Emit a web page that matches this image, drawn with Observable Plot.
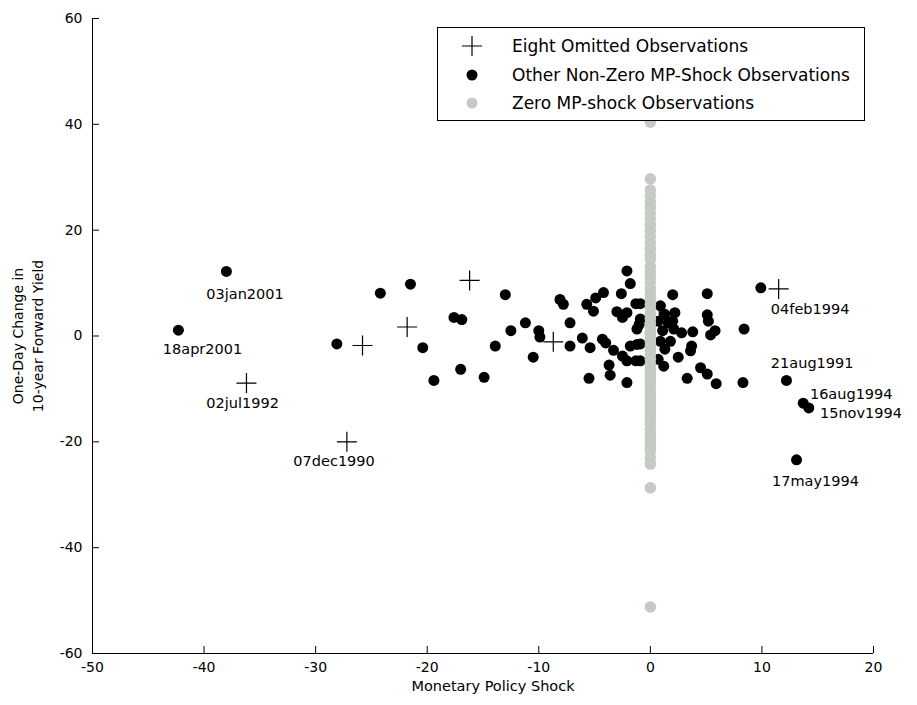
<!DOCTYPE html>
<html><head><meta charset="utf-8">
<script src="https://cdn.jsdelivr.net/npm/d3@7"></script>
<script src="https://cdn.jsdelivr.net/npm/@observablehq/plot@0.6"></script>
<style>
body{margin:0;background:#fff;}
#wrap{position:relative;width:917px;height:705px;font-family:"DejaVu Sans",sans-serif;}
</style></head><body><div id="wrap"></div>
<script>
// ---- data ----
const xTicks = [-50, -40, -30, -20, -10, 0, 10, 20];
const yTicks = [-60, -40, -20, 0, 20, 40, 60];

// Eight omitted observations (plus markers)
const omittedX = [-36.2, -27.2, -25.8, -21.8, -16.2, -8.7, 11.5, 0.8];
const omittedY = [-8.9, -20.0, -1.8, 1.7, 10.5, -1.1, 8.9, 3.2];

// Other non-zero MP-shock observations (black dots)
const otherX = [-38.0, -42.3, -28.1, -24.2, -21.5, -20.4, -19.4, -17.6, -16.9, -17.0,
  -14.9, -13.9, -13.0, -12.5, -11.2, -10.0, -9.9, -10.5, -8.1, -7.8,
  -7.2, -7.2, -6.1, -5.4, -5.5, -5.7, -4.9, -4.2, -5.1, -4.3,
  -4.0, -3.3, -3.7, -3.6, -2.5, -2.1, -1.3, -1.8, -1.2, -2.1,
  -2.1, -1.8, -2.6, -1.3, -3.0, -2.5, -2.1, -1.0, -1.2, -0.9,
  -0.9, 2.0, 5.1, 9.9, 5.1, 5.2, 5.8, 5.4, 8.4, 3.8,
  2.8, 1.3, 2.0, 2.1, 3.7, 3.6, 2.5, 4.5, 5.1, 3.3,
  5.9, 8.3, 12.2, 13.7, 14.2, 13.1, 0.9, 0.7, 1.1, 0.9,
  1.3, 1.8, 2.2, 1.6, 0.7, 1.2, -0.9, -0.9];
const otherY = [12.2, 1.1, -1.5, 8.1, 9.8, -2.2, -8.4, 3.5, 3.1, -6.3,
  -7.8, -1.9, 7.8, 1.0, 2.5, 1.0, -0.2, -4.0, 6.9, 6.0,
  2.5, -1.9, -0.4, -2.2, -8.0, 6.0, 7.2, 8.2, 4.7, -0.6,
  -1.3, -2.7, -5.5, -7.4, -3.8, -4.7, -4.7, -1.9, -1.6, -8.8,
  12.3, 9.9, 8.0, 6.1, 4.6, 3.5, 4.4, 2.2, 1.3, 6.1,
  3.2, 7.8, 8.0, 9.1, 4.0, 2.8, 1.0, 0.2, 1.3, 0.8,
  0.6, 4.1, 2.8, 1.3, -1.9, -2.8, -4.0, -6.0, -7.2, -8.0,
  -9.0, -8.8, -8.4, -12.7, -13.6, -23.4, 5.7, 2.8, 1.0, -1.0,
  -2.5, -1.0, 4.4, 2.5, -4.4, -5.7, -1.5, -4.7];

// Zero MP-shock observations (grey dots, all at shock = 0)
const zeroY = [40.4, 29.7, 27.6, 26.6, 25.4, 24.3, 23.2, 22.1, 21.0, 19.9, 18.8,
  17.6, 16.5, 15.4, 14.5, 13.2, 12.1, 11.2, 10.2, 9.0, 7.9, 7.1, 6.0,
  5.2, 4.1, 3.3, 2.4, 1.6, 0.8, 0.3, -0.4, -1.1, -1.9, -2.7, -3.5,
  -4.4, -5.3, -6.2, -7.0, -7.9, -8.8, -9.7, -10.6, -11.5, -12.3, -13.2,
  -14.1, -15.0, -15.9, -16.7, -17.6, -18.5, -19.4, -20.2, -21.1, -21.8,
  -23.0, -24.2, -28.7, -51.2];

// Date labels (left edge / vertical centre of the label, data units)
const labelText = ["03jan2001", "18apr2001", "02jul1992", "07dec1990", "04feb1994",
  "21aug1991", "16aug1994", "15nov1994", "17may1994"];
const labelX = [-39.8, -43.7, -39.8, -32.0, 10.8, 10.8, 14.3, 15.2, 10.9];
const labelY = [7.9, -2.6, -12.8, -23.6, 5.1, -5.1, -11.0, -14.7, -27.4];

const legendText = ["Eight Omitted Observations", "Other Non-Zero MP-Shock Observations", "Zero MP-shock Observations"];

// ---- build ----
const omitted = omittedX.map((x, i) => ({x, y: omittedY[i]}));
const other = otherX.map((x, i) => ({x, y: otherY[i]}));
const zero = zeroY.map(y => ({x: 0, y}));
const labels = labelText.map((t, i) => ({t, x: labelX[i], y: labelY[i]}));

const plusSymbol = {
  draw(ctx, size) {
    const r = Math.sqrt(size / Math.PI);
    ctx.moveTo(-r, 0); ctx.lineTo(r, 0);
    ctx.moveTo(0, -r); ctx.lineTo(0, r);
  }
};

const W = 917, H = 705, mL = 92, mR = 44, mT = 18, mB = 52;
const pw = W - mL - mR, ph = H - mT - mB;
const grey = "#c5cac5";
const font = "DejaVu Sans, sans-serif";

const chart = Plot.plot({
  width: W, height: H,
  marginLeft: mL, marginRight: mR, marginTop: mT, marginBottom: mB,
  style: {fontFamily: font, fontSize: "14px", color: "#000", background: "#fff"},
  x: {domain: [-50, 20], ticks: xTicks},
  y: {domain: [-60, 60], ticks: yTicks},
  marks: [
    Plot.axisX(xTicks, {tickSize: 0, tickPadding: 9, label: null, fontSize: 14, tickFormat: d => String(d)}),
    Plot.axisY(yTicks, {tickSize: 0, tickPadding: 10, label: null, fontSize: 14, tickFormat: d => String(d)}),
    Plot.tickY(yTicks, {y: d => d, stroke: "#000", insetRight: pw - 7}),
    Plot.tickX(xTicks, {x: d => d, stroke: "#000", insetTop: ph - 7}),
    Plot.ruleX([-50], {stroke: "#000"}),
    Plot.ruleY([-60], {stroke: "#000"}),
    Plot.dot(omitted, {x: "x", y: "y", symbol: plusSymbol, r: 10, stroke: "#000", strokeWidth: 1.2}),
    Plot.dot(other, {x: "x", y: "y", r: 5.5, fill: "#000", stroke: "none"}),
    Plot.dot(zero, {x: "x", y: "y", r: 5.8, fill: grey, stroke: "none"}),
    Plot.text(labels, {x: "x", y: "y", text: "t", textAnchor: "start", fontSize: 14.5, fill: "#000"}),
    Plot.text(["Monetary Policy Shock"], {frameAnchor: "bottom", dy: 37, dx: 10, fontSize: 14.5, fill: "#000"}),
    Plot.text(["One-Day Change in"], {frameAnchor: "left", textAnchor: "middle", rotate: -90, dx: -74, fontSize: 14, fill: "#000"}),
    Plot.text(["10-year Forward Yield"], {frameAnchor: "left", textAnchor: "middle", rotate: -90, dx: -54, fontSize: 14, fill: "#000"})
  ]
});
const wrap = document.getElementById("wrap");
wrap.appendChild(chart);

// legend
const lw = 428, lh = 94;
const leg = d3.create("svg").attr("width", lw).attr("height", lh)
  .style("position", "absolute").style("left", "437px").style("top", "27px");
leg.append("rect").attr("x", 0.5).attr("y", 0.5).attr("width", lw - 1).attr("height", lh - 1)
  .attr("fill", "#fff").attr("stroke", "#000");
const rows = [19, 48, 76];
const sx = 35;
leg.append("path").attr("d", `M${sx - 10},${rows[0]}H${sx + 10}M${sx},${rows[0] - 10}V${rows[0] + 10}`)
  .attr("stroke", "#000").attr("stroke-width", 1.2);
leg.append("circle").attr("cx", sx).attr("cy", rows[1]).attr("r", 5.5).attr("fill", "#000");
leg.append("circle").attr("cx", sx).attr("cy", rows[2]).attr("r", 5.5).attr("fill", grey);
leg.selectAll("text.l").data(legendText).join("text")
  .attr("x", 75).attr("y", (d, i) => rows[i]).attr("dy", "0.35em")
  .attr("font-family", font).attr("font-size", 17).attr("fill", "#000").text(d => d);
wrap.appendChild(leg.node());
</script>
</body></html>
